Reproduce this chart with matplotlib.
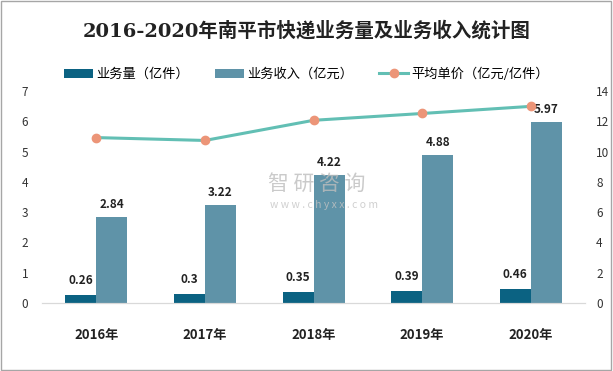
import matplotlib.pyplot as plt
import numpy as np
from matplotlib.patches import Rectangle

plt.rcParams['font.family'] = ['Noto Sans CJK SC', 'DejaVu Sans']

years = ['2016年', '2017年', '2018年', '2019年', '2020年']
volume = [0.26, 0.3, 0.35, 0.39, 0.46]
revenue = [2.84, 3.22, 4.22, 4.88, 5.97]
unit_price = [10.92, 10.73, 12.06, 12.51, 12.98]

c_vol = '#0b6282'
c_rev = '#5f93a8'
c_line = '#62bfb4'
c_mark = '#ec9578'

fig = plt.figure(figsize=(6.13, 3.71), dpi=100)
ax = fig.add_axes([0.0685, 0.183, 0.886, 0.572])
ax2 = ax.twinx()

x = np.arange(len(years))
w = 0.285
b1 = ax.bar(x - w / 2, volume, w, color=c_vol, label='业务量（亿件）')
b2 = ax.bar(x + w / 2, revenue, w, color=c_rev, label='业务收入（亿元）')
ln, = ax2.plot(x, unit_price, color=c_line, lw=2.2, marker='o', ms=6,
               mfc=c_mark, mec=c_mark, label='平均单价（亿元/亿件）')

for xi, v in zip(x, volume):
    ax.text(xi - w / 2, v + 0.27, f'{v:g}', ha='center', va='bottom',
            fontsize=8.5, fontweight='bold', color='#222222')
for xi, v in zip(x, revenue):
    ax.text(xi + w / 2, v + 0.2, f'{v:g}', ha='center', va='bottom',
            fontsize=8.5, fontweight='bold', color='#222222')

ax.set_xlim(-0.5, 4.5)
ax.set_ylim(0, 7)
ax2.set_ylim(0, 14)
ax.set_yticks(range(0, 8))
ax2.set_yticks(range(0, 15, 2))
ax.set_xticks(x)
ax.set_xticklabels(years, fontsize=9.5, fontweight='bold', color='#222222')
ax.tick_params(axis='x', length=0, pad=18)
ax.tick_params(axis='y', length=0, labelsize=8.5, labelcolor='#333333', pad=10)
ax2.tick_params(axis='y', length=0, labelsize=8.5, labelcolor='#333333', pad=8)
for a in (ax, ax2):
    for s in ['top', 'left', 'right']:
        a.spines[s].set_visible(False)
    a.spines['bottom'].set_color('#d9d9d9')

# watermark
fig.text(0.437, 0.503, '智 研 咨 询', fontsize=15, color='#bdbdbd', alpha=0.8,
         ha='left', va='center', zorder=10)
fig.text(0.44, 0.448, 'w w w . c h y x x . c o m', fontsize=7.5, color='#c4c4c4',
         alpha=0.8, ha='left', va='center', zorder=10)

fig.suptitle('2016-2020年南平市快递业务量及业务收入统计图', y=0.945, fontsize=14,
             fontweight='bold', color='#222222',
             family=['DejaVu Serif', 'Noto Sans CJK SC'])
fig.legend(handles=[b1, b2, ln], loc='center', bbox_to_anchor=(0.5, 0.8),
           ncol=3, frameon=False, fontsize=9.5, handlelength=2.2,
           columnspacing=2.0, handletextpad=0.2)

fig.patches.append(Rectangle((0.002, 0.003), 0.994, 0.993, transform=fig.transFigure,
                             fill=False, edgecolor='#a6a6a6', lw=1))

fig.savefig('out.png', dpi=100)
